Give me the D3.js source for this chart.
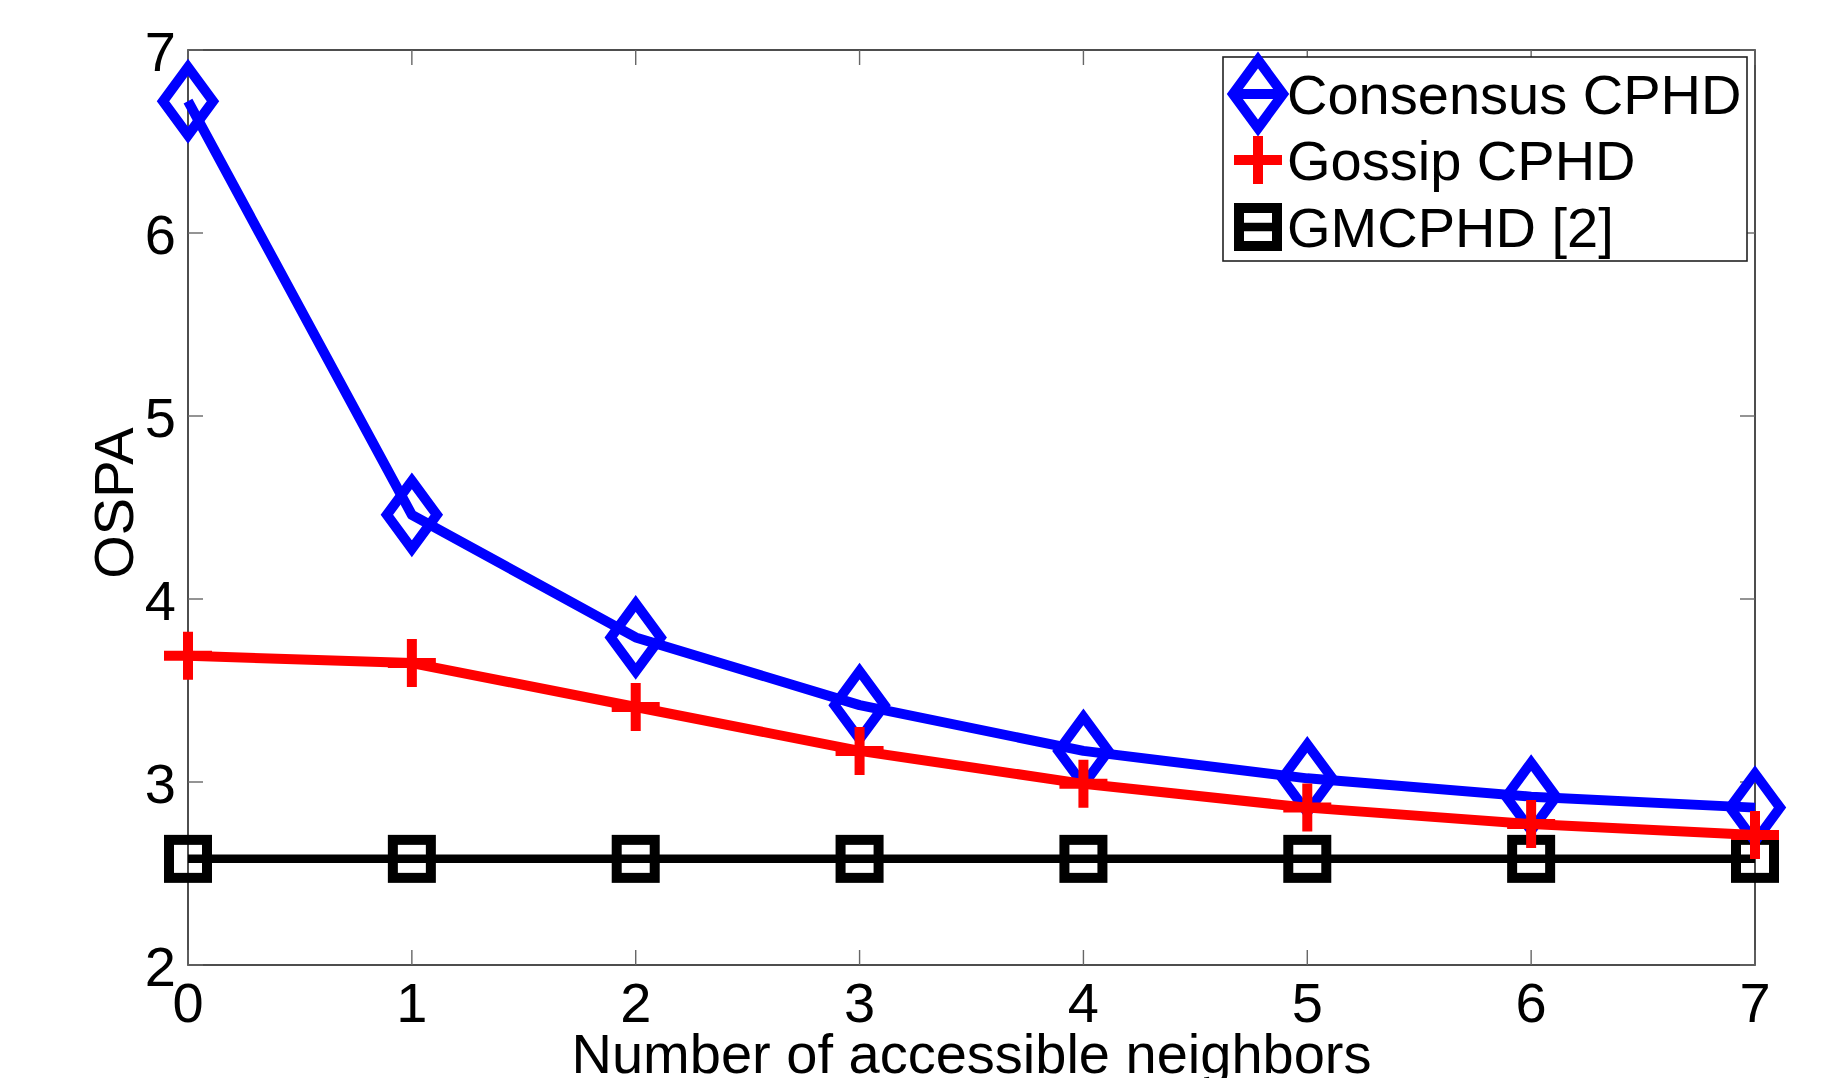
<!DOCTYPE html>
<html>
<head>
<meta charset="utf-8">
<script src="https://cdn.jsdelivr.net/npm/d3@7"></script>
<style>
  html, body { margin: 0; padding: 0; background: #fff; }
  svg { display: block; }
  text { font-family: "Liberation Sans", Arial, Helvetica, sans-serif; fill: #000; }
</style>
</head>
<body>
<svg id="chart" width="1826" height="1078"></svg>
<script>
// ---- data ----
const neighbors = [0, 1, 2, 3, 4, 5, 6, 7];
const consensusCPHD = [6.72, 4.46, 3.79, 3.42, 3.17, 3.02, 2.92, 2.86];
const gossipCPHD    = [3.69, 3.65, 3.41, 3.17, 2.99, 2.86, 2.77, 2.71];
const gmCPHD        = [2.58, 2.58, 2.58, 2.58, 2.58, 2.58, 2.58, 2.58];
const xTickValues = [0, 1, 2, 3, 4, 5, 6, 7];
const yTickValues = [2, 3, 4, 5, 6, 7];
const seriesNames = ["Consensus CPHD", "Gossip CPHD", "GMCPHD [2]"];
const xLabel = "Number of accessible neighbors";
const yLabel = "OSPA";

// ---- layout ----
const W = 1826, H = 1078;
const L = 188, R = 1755, T = 50, B = 965;
const FS = 56;

const svg = d3.select("#chart");
const x = d3.scaleLinear().domain([0, 7]).range([L, R]);
const y = d3.scaleLinear().domain([2, 7]).range([B, T]);

// frame
svg.append("rect").attr("x", L).attr("y", T).attr("width", R - L).attr("height", B - T)
  .attr("fill", "none").attr("stroke", "#222").attr("stroke-width", 1.6);

const tickLen = 15;
const tickCol = "#666";
// x ticks (bottom & top, inward)
const gx = svg.append("g");
xTickValues.forEach(v => {
  gx.append("line").attr("x1", x(v)).attr("x2", x(v)).attr("y1", B).attr("y2", B - tickLen)
    .attr("stroke", tickCol).attr("stroke-width", 1.4);
  gx.append("line").attr("x1", x(v)).attr("x2", x(v)).attr("y1", T).attr("y2", T + tickLen)
    .attr("stroke", tickCol).attr("stroke-width", 1.4);
  gx.append("text").attr("x", x(v)).attr("y", 1022).attr("text-anchor", "middle")
    .attr("font-size", FS).text(d3.format("d")(v));
});
// y ticks (left & right, inward)
const gy = svg.append("g");
yTickValues.forEach(v => {
  gy.append("line").attr("x1", L).attr("x2", L + tickLen).attr("y1", y(v)).attr("y2", y(v))
    .attr("stroke", tickCol).attr("stroke-width", 1.4);
  gy.append("line").attr("x1", R).attr("x2", R - tickLen).attr("y1", y(v)).attr("y2", y(v))
    .attr("stroke", tickCol).attr("stroke-width", 1.4);
  gy.append("text").attr("x", 176).attr("y", y(v) + 21).attr("text-anchor", "end")
    .attr("font-size", FS).text(d3.format("d")(v));
});

// axis labels
svg.append("text").attr("x", (L + R) / 2).attr("y", 1073).attr("text-anchor", "middle")
  .attr("font-size", FS).text(xLabel);
svg.append("text").attr("transform", "translate(133,503) rotate(-90)")
  .attr("text-anchor", "middle").attr("font-size", FS).text(yLabel);

// marker shapes
const SW = 10;
function diamond(g, cx, cy, col) {
  const hw = 25, hh = 34;
  g.append("path").attr("d", `M${cx},${cy - hh}L${cx + hw},${cy}L${cx},${cy + hh}L${cx - hw},${cy}Z`)
    .attr("fill", "none").attr("stroke", col).attr("stroke-width", SW).attr("stroke-linejoin", "miter");
}
function plus(g, cx, cy, col) {
  const h = 24;
  g.append("path").attr("d", `M${cx - h},${cy}H${cx + h}M${cx},${cy - h}V${cy + h}`)
    .attr("fill", "none").attr("stroke", col).attr("stroke-width", SW);
}
function square(g, cx, cy, col) {
  const h = 19;
  g.append("rect").attr("x", cx - h).attr("y", cy - h).attr("width", 2 * h).attr("height", 2 * h)
    .attr("fill", "none").attr("stroke", col).attr("stroke-width", 10);
}

const series = [
  { name: seriesNames[2], values: gmCPHD, color: "#000", marker: square, lw: 8.5 },
  { name: seriesNames[0], values: consensusCPHD, color: "#0000ff", marker: diamond, lw: 10 },
  { name: seriesNames[1], values: gossipCPHD, color: "#ff0000", marker: plus, lw: 10 },
];

const line = d3.line().x(d => x(d[0])).y(d => y(d[1]));
series.forEach(s => {
  const g = svg.append("g");
  const pts = neighbors.map((n, i) => [n, s.values[i]]);
  g.append("path").attr("d", line(pts)).attr("fill", "none").attr("stroke", s.color)
    .attr("stroke-width", s.lw).attr("stroke-linejoin", "round");
  pts.forEach(p => s.marker(g, x(p[0]), y(p[1]), s.color));
});

// legend
const lg = svg.append("g");
lg.append("rect").attr("x", 1223).attr("y", 57).attr("width", 524).attr("height", 204)
  .attr("fill", "#fff").attr("stroke", "#222").attr("stroke-width", 1.6);
const legendOrder = [series[1], series[2], series[0]];
const rowY = [94, 160, 227];
legendOrder.forEach((s, i) => {
  const cx = 1258, cy = rowY[i];
  lg.append("line").attr("x1", cx - 24).attr("x2", cx + 24).attr("y1", cy).attr("y2", cy)
    .attr("stroke", s.color).attr("stroke-width", s.lw);
  s.marker(lg, cx, cy, s.color);
  lg.append("text").attr("x", 1287).attr("y", cy + 20).attr("font-size", FS).text(s.name);
});
</script>
</body>
</html>
